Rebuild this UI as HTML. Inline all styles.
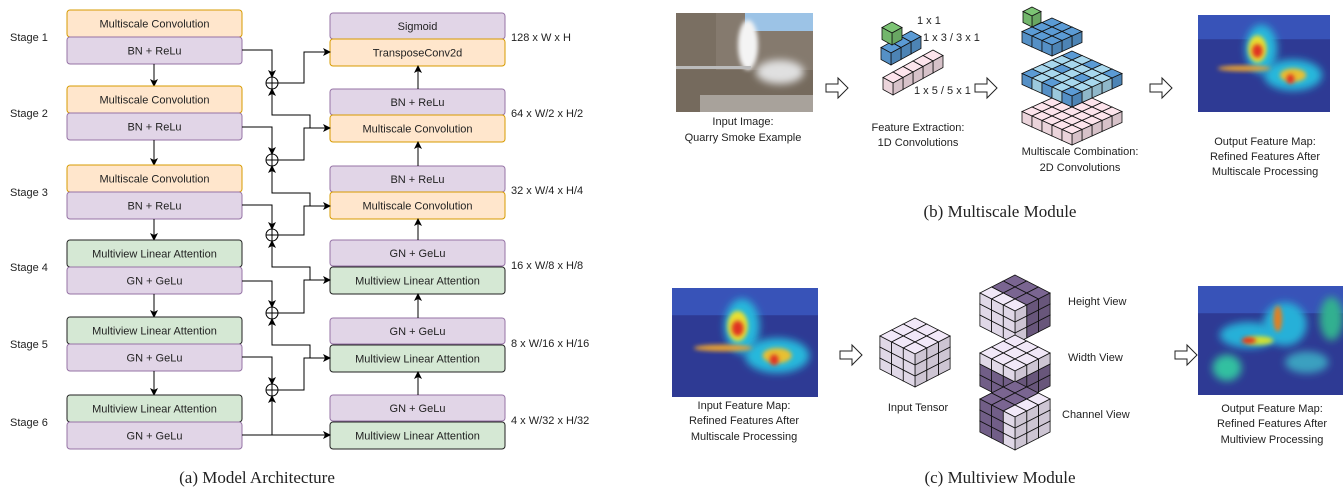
<!DOCTYPE html>
<html><head><meta charset="utf-8"><style>
html,body{margin:0;padding:0;background:#fff;}
svg{display:block;font-family:"Liberation Sans",sans-serif;}
.t{font-size:11px;fill:#222;text-anchor:middle;}
.s{font-size:11px;fill:#222;}
.cap{font-family:"Liberation Serif",serif;font-size:17px;fill:#222;text-anchor:middle;}
</style></head><body>
<svg id="sv" width="1343" height="493" viewBox="0 0 1343 493" xmlns="http://www.w3.org/2000/svg">
<defs>
<marker id="ar" markerWidth="8" markerHeight="8" refX="7" refY="4" orient="auto" markerUnits="userSpaceOnUse"><path d="M0,0 L8,4 L0,8 L2,4 z" fill="#000"/></marker>
<filter id="bl" x="-50%" y="-50%" width="200%" height="200%"><feGaussianBlur stdDeviation="4"/></filter>
<filter id="bl2" x="-50%" y="-50%" width="200%" height="200%"><feGaussianBlur stdDeviation="2"/></filter>
<clipPath id="c1"><rect x="676" y="13" width="137" height="99"/></clipPath>
<clipPath id="c2"><rect x="1198" y="15" width="132" height="97"/></clipPath>
<clipPath id="c3"><rect x="672" y="288" width="146" height="109"/></clipPath>
<clipPath id="c4"><rect x="1198" y="286" width="145" height="109"/></clipPath>
</defs>
<g id="left"></g>
</svg>
<script>
let out='';
const O=['#ffe6cc','#d79b00'],P=['#e1d5e7','#9673a6'],G=['#d5e8d4','#222'];
function box(x,y,w,h,c,t){out+=`<rect x="${x}" y="${y}" width="${w}" height="${h}" rx="3" fill="${c[0]}" stroke="${c[1]}" stroke-width="1"/><text class="t" x="${x+w/2}" y="${y+h/2+4}">${t}</text>`;}
const L=[[10,37,O,'Multiscale Convolution','BN + ReLu'],[86,113,O,'Multiscale Convolution','BN + ReLu'],[165,192,O,'Multiscale Convolution','BN + ReLu'],[240,267,G,'Multiview Linear Attention','GN + GeLu'],[317,344,G,'Multiview Linear Attention','GN + GeLu'],[395,422,G,'Multiview Linear Attention','GN + GeLu']];
L.forEach((s,i)=>{box(67,s[0],175,27,s[2],s[3]);box(67,s[1],175,27,P,s[4]);out+=`<text class="s" x="10" y="${s[0]+31}">Stage ${i+1}</text>`;
 if(i<5) out+=`<line x1="154" y1="${s[1]+27}" x2="154" y2="${L[i+1][0]}" stroke="#000" marker-end="url(#ar)"/>`;});
const R=[[13,39,'Sigmoid','TransposeConv2d',O,'128 x W x H'],[89,115,'BN + ReLu','Multiscale Convolution',O,'64 x W/2 x H/2'],[166,192,'BN + ReLu','Multiscale Convolution',O,'32 x W/4 x H/4'],[240,267,'GN + GeLu','Multiview Linear Attention',G,'16 x W/8 x H/8'],[318,345,'GN + GeLu','Multiview Linear Attention',G,'8 x W/16 x H/16'],[395,422,'GN + GeLu','Multiview Linear Attention',G,'4 x W/32 x H/32']];
R.forEach((s,i)=>{box(330,s[0],175,26,P,s[2]);box(330,s[1],175,27,s[4],s[3]);out+=`<text class="s" x="511" y="${s[1]+2}">${s[5]}</text>`;
 if(i>0) out+=`<line x1="418" y1="${s[0]}" x2="418" y2="${R[i-1][1]+27}" stroke="#000" marker-end="url(#ar)"/>`;});
const Ly=[50,127,205,281,357],C=[83,160,235,313,390],T=[52,128,206,280,358];
for(let i=0;i<5;i++){
 out+=`<path d="M242,${Ly[i]} H272 V${C[i]-6}" fill="none" stroke="#000" marker-end="url(#ar)"/>`;
 out+=`<circle cx="272" cy="${C[i]}" r="6" fill="#fff" stroke="#000"/><path d="M266,${C[i]} H278 M272,${C[i]-6} V${C[i]+6}" stroke="#000"/>`;
 out+=`<path d="M278,${C[i]} H304 V${T[i]} H330" fill="none" stroke="#000" marker-end="url(#ar)"/>`;
 if(i<4) out+=`<path d="M310,${T[i+1]} V${T[i+1]-13} H272 V${C[i]+6}" fill="none" stroke="#000" marker-end="url(#ar)"/>`;
}
out+=`<path d="M242,435 H330" fill="none" stroke="#000" marker-end="url(#ar)"/><path d="M272,435 V396" fill="none" stroke="#000" marker-end="url(#ar)"/>`;
out+=`<text class="cap" x="257" y="483">(a) Model Architecture</text>`;
function ha(x,y){out+=`<path d="M${x},${y-4} h12 v-6 l10,10 l-10,10 v-6 h-12 z" fill="#fff" stroke="#222" stroke-width="1"/>`;}
ha(826,88);ha(975,88);ha(1150,88);ha(840,355);ha(1175,355);
// photo
out+=`<g clip-path="url(#c1)"><rect x="676" y="13" width="137" height="99" fill="#857a6e"/><rect x="745" y="13" width="68" height="18" fill="#9cc3e6"/><rect x="676" y="13" width="40" height="60" fill="#7a6f62"/><rect x="676" y="70" width="137" height="42" fill="#756a5d"/><rect x="700" y="95" width="113" height="17" fill="#a8a29b"/><ellipse cx="748" cy="45" rx="10" ry="25" fill="#f4f4f4" filter="url(#bl2)"/><ellipse cx="780" cy="72" rx="24" ry="12" fill="#e0e0e0" filter="url(#bl)"/><rect x="676" y="66" width="75" height="3" fill="#bbb"/></g>`;
function heat(cp,x,y,w,h,spots){out+=`<g clip-path="url(#${cp})"><rect x="${x}" y="${y}" width="${w}" height="${h}" fill="#2e3a94"/><rect x="${x}" y="${y}" width="${w}" height="${h*0.25}" fill="#3d5ec8" opacity=".7"/>`;
 spots.forEach(s=>{out+=`<ellipse cx="${x+s[0]*w}" cy="${y+s[1]*h}" rx="${s[2]*w}" ry="${s[3]*h}" fill="${s[4]}" filter="url(#${s[5]||'bl'})"/>`});out+='</g>';}
const sp1=[[0.48,0.35,0.12,0.25,'#25b8dc'],[0.72,0.62,0.22,0.16,'#25b8dc'],[0.45,0.35,0.07,0.14,'#e8e030','bl2'],[0.72,0.62,0.1,0.07,'#e8c030','bl2'],[0.45,0.37,0.04,0.07,'#e03020','bl2'],[0.7,0.66,0.03,0.05,'#e03020','bl2'],[0.35,0.55,0.2,0.03,'#e8a030','bl2']];
heat('c2',1198,15,132,97,sp1);heat('c3',672,288,146,109,sp1);
heat('c4',1198,286,145,109,[[0.35,0.45,0.2,0.12,'#25b0d8'],[0.6,0.35,0.15,0.2,'#25b0d8'],[0.2,0.75,0.1,0.12,'#30c0a0'],[0.92,0.3,0.08,0.2,'#30b090'],[0.75,0.7,0.15,0.1,'#3aa0c0'],[0.42,0.5,0.1,0.04,'#d0e030','bl2'],[0.35,0.5,0.05,0.03,'#e03020','bl2'],[0.55,0.3,0.03,0.12,'#e08020','bl2']]);
function tx(x,y,s,cls){out+=`<text class="${cls||'t'}" x="${x}" y="${y}">${s}</text>`;}
tx(743,125,'Input Image:');tx(743,141,'Quarry Smoke Example');
tx(918,131,'Feature Extraction:');tx(918,146,'1D Convolutions');
tx(1080,155,'Multiscale Combination:');tx(1080,171,'2D Convolutions');
tx(1265,145,'Output Feature Map:');tx(1265,160,'Refined Features After');tx(1265,175,'Multiscale Processing');
tx(917,24,'1 x 1','s');tx(923,41,'1 x 3 / 3 x 1','s');tx(914,94,'1 x 5 / 5 x 1','s');
out+=`<text class="cap" x="1000" y="217">(b) Multiscale Module</text>`;
tx(744,409,'Input Feature Map:');tx(744,424,'Refined Features After');tx(744,440,'Multiscale Processing');
tx(918,411,'Input Tensor');
tx(1068,305,'Height View','s');tx(1068,361,'Width View','s');tx(1062,418,'Channel View','s');
tx(1272,412,'Output Feature Map:');tx(1272,427,'Refined Features After');tx(1272,443,'Multiview  Processing');
out+=`<text class="cap" x="1000" y="483">(c) Multiview Module</text>`;
function shade(c,f){const n=parseInt(c.slice(1),16);let r=n>>16,g=(n>>8)&255,b=n&255;return `rgb(${Math.round(r*f)},${Math.round(g*f)},${Math.round(b*f)})`;}
function cubes(list,ox,oy,c,h,s){const p=(a,b,k)=>`${(ox+(a-b)*c).toFixed(1)},${(oy+(a+b)*h-k*s).toFixed(1)}`;
 list.sort((u,v)=>(u[0]+u[1]+u[2])-(v[0]+v[1]+v[2])||u[2]-v[2]);
 list.forEach(([a,b,k,col])=>{
  out+=`<polygon points="${p(a,b,k+1)} ${p(a+1,b,k+1)} ${p(a+1,b+1,k+1)} ${p(a,b+1,k+1)}" fill="${col}" stroke="#111" stroke-width=".8"/>`;
  out+=`<polygon points="${p(a+1,b,k+1)} ${p(a+1,b+1,k+1)} ${p(a+1,b+1,k)} ${p(a+1,b,k)}" fill="${shade(col,0.85)}" stroke="#111" stroke-width=".8"/>`;
  out+=`<polygon points="${p(a,b+1,k+1)} ${p(a+1,b+1,k+1)} ${p(a+1,b+1,k)} ${p(a,b+1,k)}" fill="${shade(col,0.93)}" stroke="#111" stroke-width=".8"/>`;});}
const GR='#7cc474',BL='#5b9bd5',LB='#a8d8ee',PK='#fde4ec',LV='#f1e8f8',DV='#7a6591';
function row(n,col,ox,oy){const l=[];for(let i=0;i<n;i++)l.push([0,-i,0,col]);cubes(l,ox,oy,10,5.5,12);}
row(5,PK,893,84);row(3,BL,891,54);row(1,GR,892,34);
function layer(n,colf,ox,oy){const l=[];for(let a=0;a<n;a++)for(let b=0;b<n;b++)l.push([a,-b,0,colf(a,b)]);cubes(l,ox,oy,10,4.5,11);}
layer(5,()=>PK,1032,118);
layer(5,(a,b)=>((a*2+b)%4==0)?BL:LB,1032,80);
layer(3,()=>BL,1032,38);
cubes([[0,0,0,GR]],1032,18,9,4.5,11);
function big(ox,oy,f){const l=[];for(let a=0;a<3;a++)for(let b=0;b<3;b++)for(let k=0;k<3;k++)l.push([a,b,k,f(a,b,k)]);cubes(l,ox,oy,11.7,6,11);}
big(915,351,()=>LV);
big(1015,308,(a,b,k)=>b==2?LV:DV);
big(1015,368,(a,b,k)=>k==2?LV:DV);
big(1015,414,(a,b,k)=>a==2?LV:DV);
document.getElementById('left').innerHTML=out;
</script>
</body></html>
